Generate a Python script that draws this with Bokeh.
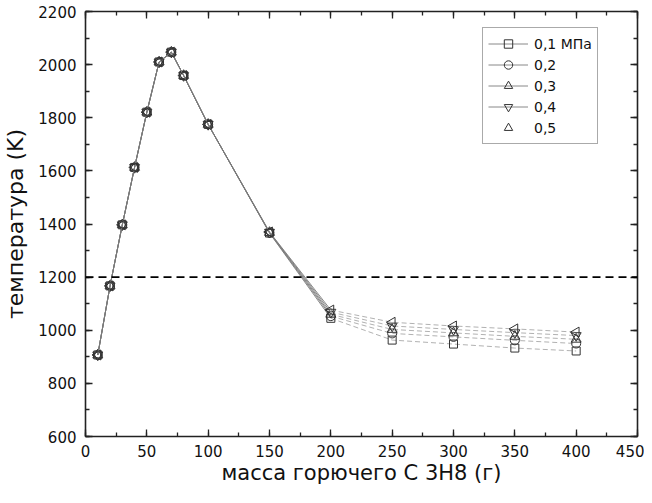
import math
from bokeh.plotting import figure
from bokeh.models import (Range1d, LinearAxis, SingleIntervalTicker, Span, Legend,
                          LegendItem, CustomJSTickFormatter)
from bokeh.embed import file_html
from bokeh.resources import INLINE

# ---- data ----
mass = [10, 20, 30, 40, 50, 60, 70, 80, 100, 150, 200, 250, 300, 350, 400]
t_01 = [907, 1167, 1397, 1613, 1821, 2010, 2047, 1959, 1775, 1366, 1045, 963, 948, 933, 922]
t_02 = [907, 1167, 1397, 1613, 1821, 2010, 2047, 1959, 1775, 1367, 1053, 988, 975, 962, 950]
t_03 = [907, 1167, 1397, 1613, 1821, 2010, 2047, 1959, 1775, 1368, 1060, 1003, 990, 977, 966]
t_04 = [907, 1167, 1397, 1613, 1821, 2010, 2047, 1959, 1775, 1369, 1068, 1016, 1003, 991, 980]
t_05 = [907, 1167, 1397, 1613, 1821, 2010, 2047, 1959, 1775, 1370, 1076, 1030, 1016, 1005, 993]
labels = ["0,1 МПа", "0,2", "0,3", "0,4", "0,5"]
limit_T = 1200
x_ticks_step = 50
y_ticks_step = 200

FONT = "DejaVu Sans"

p = figure(width=644, height=487, x_range=Range1d(0, 450), y_range=Range1d(600, 2200),
           output_backend="svg", toolbar_location=None,
           min_border_left=82, min_border_right=7, min_border_top=11, min_border_bottom=50)
p.grid.visible = False
p.outline_line_color = None
p.background_fill_color = "white"
p.border_fill_color = "white"

xt = SingleIntervalTicker(interval=x_ticks_step, num_minor_ticks=2)
yt = SingleIntervalTicker(interval=y_ticks_step, num_minor_ticks=2)


def style_axis(ax):
    ax.axis_line_width = 1.6
    ax.axis_line_color = "#222222"
    ax.major_tick_in = 7
    ax.major_tick_out = 0
    ax.minor_tick_in = 4
    ax.minor_tick_out = 0
    ax.major_tick_line_color = "#222222"
    ax.minor_tick_line_color = "#222222"
    ax.major_tick_line_width = 1.3
    ax.minor_tick_line_width = 1.3


xa = p.xaxis[0]
ya = p.yaxis[0]
xa.ticker = xt
ya.ticker = yt
for ax in (xa, ya):
    style_axis(ax)
    ax.major_label_text_font = FONT
    ax.major_label_text_font_size = "15px"
    ax.major_label_text_color = "#111111"
    ax.axis_label_text_font = FONT
    ax.axis_label_text_font_style = "normal"
    ax.axis_label_text_color = "#111111"

xa.axis_label = "масса горючего C 3H8 (г)"
xa.axis_label_text_font_size = "21px"
xa.major_label_standoff = 8
xa.axis_label_standoff = 1
ya.axis_label = "температура (K)"
ya.axis_label_text_font_size = "22px"
ya.major_label_standoff = 9
ya.axis_label_standoff = 7

blank = CustomJSTickFormatter(code="return ''")
for loc in ("above", "right"):
    ax = LinearAxis(ticker=xt if loc == "above" else yt, formatter=blank)
    style_axis(ax)
    ax.major_label_standoff = 0
    ax.major_label_text_font_size = "1px"
    p.add_layout(ax, loc)

p.add_layout(Span(location=limit_T, dimension="width", line_color="black",
                  line_width=1.8, line_dash="8 5"))

series = [t_01, t_02, t_03, t_04, t_05]
markers = [("square", 0.0, 8), ("circle", 0.0, 9), ("triangle", 0.0, 10),
           ("inverted_triangle", 0.0, 10), ("triangle", math.pi / 2, 10)]
split = mass.index(200)
items = []
for i, (ys, (mk, ang, sz)) in enumerate(zip(series, markers)):
    r_solid = p.line(mass[:split + 1], ys[:split + 1], line_color="#7a7a7a", line_width=0.9)
    p.line(mass[split:], ys[split:], line_color="#a8a8a8", line_width=0.9, line_dash="5 3")
    r_pts = p.scatter(mass, ys, marker=mk, angle=ang, size=sz, fill_color=None,
                      line_color="#333333", line_width=1.0)
    rs = [r_solid, r_pts] if i < 4 else [r_pts]
    items.append(LegendItem(label=labels[i], renderers=rs))

legend = Legend(items=items, location=(397, 292))
legend.label_text_font = FONT
legend.label_text_font_size = "14px"
legend.label_text_color = "#111111"
legend.glyph_width = 40
legend.glyph_height = 21
legend.label_height = 21
legend.spacing = 0
legend.padding = 5
legend.margin = 0
legend.label_standoff = 6
legend.border_line_color = "#555555"
legend.border_line_width = 1
legend.background_fill_color = "white"
legend.background_fill_alpha = 1.0
p.add_layout(legend)

open("out.html", "w").write(file_html(p, INLINE))
